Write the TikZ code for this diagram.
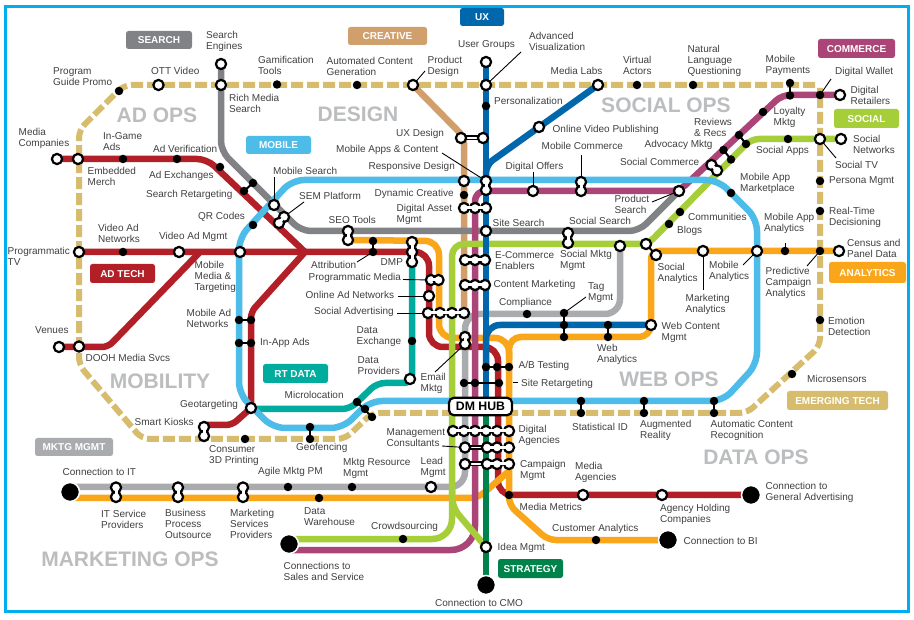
\documentclass[tikz,border=0pt]{standalone}
\usepackage{fontspec}
\setmainfont{Liberation Sans}
\definecolor{cFrame}{HTML}{00AEEF}
\definecolor{cTan}{HTML}{D6BC6C}
\definecolor{cCre}{HTML}{D09F6C}
\definecolor{cGray}{HTML}{808285}
\definecolor{cLGray}{HTML}{A9ABAE}
\definecolor{cTeal}{HTML}{00AC9E}
\definecolor{cRed}{HTML}{B31F26}
\definecolor{cOrange}{HTML}{FAA61A}
\definecolor{cPlum}{HTML}{AC4577}
\definecolor{cGreen}{HTML}{A5CE39}
\definecolor{cSky}{HTML}{4DBCE9}
\definecolor{cBlue}{HTML}{0067AC}
\definecolor{cStrat}{HTML}{00834A}
\definecolor{cArea}{HTML}{BBBDBF}
\definecolor{cText}{HTML}{404040}
\pgfdeclarelayer{rails}
\pgfdeclarelayer{sticks}
\pgfdeclarelayer{over}
\pgfsetlayers{rails,sticks,main,over}
\tikzset{
 wst/.style={circle,draw=black,fill=white,line width=2.2pt,minimum size=10.2pt,inner sep=0pt},
 bst/.style={circle,fill=black,minimum size=8.5pt,inner sep=0pt},
 bigst/.style={circle,fill=black,draw=white,line width=1.5pt,minimum size=19pt,inner sep=0pt},
 lab/.style={anchor=west,align=left,inner sep=0pt,text=cText,font=\fontsize{10}{11}\selectfont},
 area/.style={text=cArea,inner sep=0pt,font=\fontsize{21}{23}\selectfont\bfseries},
 tag/.style={rounded corners=2.5pt,text=white,inner sep=0pt,text height=7.2pt,text depth=0pt,font=\fontsize{10}{11}\selectfont\bfseries},
 rail/.style={line width=6.5pt,line join=round},
 leader/.style={draw=black,line width=0.9pt},
}
\newcommand\ws[3]{\node[wst] (#1) at (#2,#3) {};}
\newcommand\bs[3]{\node[bst] (#1) at (#2,#3) {};}
\newcommand\lb[4]{\node[lab] (#1) at (#2,#3) {#4};}
\newcommand\pn[2]{\begin{pgfonlayer}{over}\draw[white,line width=3pt] (#1.center) -- (#2.center);\end{pgfonlayer}}
\newcommand\lnk[2]{\begin{pgfonlayer}{sticks}\draw[black,line width=5pt] (#1.center) -- (#2.center);\draw[white,line width=1.5pt] (#1.center) -- (#2.center);\end{pgfonlayer}}
\newcommand\stk[2]{\begin{pgfonlayer}{sticks}\draw[black,line width=2pt] (#1.center) -- (#2.center);\end{pgfonlayer}}
\newcommand\ld[2]{\begin{pgfonlayer}{sticks}\draw[leader] (#1) -- (#2);\end{pgfonlayer}}
\newcommand\tg[6]{\node[tag,fill=#1,minimum width=#4pt,minimum height=#5pt] (#6) at (#2,#3) {#6};}
\begin{document}
\begin{tikzpicture}[x=1pt,y=-1pt]
\useasboundingbox (0,0) rectangle (914,620);
\begin{pgfonlayer}{rails}\fill[white] (0,0) rectangle (914,620);\end{pgfonlayer}
\node[draw=cFrame,line width=3pt,minimum width=902.5pt,minimum height=605pt,inner sep=0pt] (frame) at (456.75,309) {};

% stations: top
\ws{ott}{158.5}{85}\ws{seng}{221}{64}\ws{rich}{221}{85}\bs{gami}{277}{84.5}\bs{auto}{357}{85}\ws{pdes}{413}{85}
\ws{advv}{486}{85}\ws{ugrp}{486}{62}\bs{pers}{486}{106}\ws{mlab}{598}{85}\ws{ovp}{539}{127}
\bs{virt}{637}{85}\bs{natl}{693}{85}\bs{mpay}{790}{83}\bs{mpayb}{790}{95.5}\bs{dwal}{820}{95}\ws{dret}{840}{95}
\bs{prog}{119}{91}\bs{loya}{763}{112}\bs{revw}{739}{135}\bs{revb}{746}{144}\bs{advo}{723.5}{150}\bs{advb}{731}{159.5}
\ws{scoma}{711.5}{165}\ws{scomb}{717}{170.5}\bs{sapp}{788}{139}\ws{stv}{820}{139}\ws{snet}{841}{139}
\bs{pmg}{820}{181}\bs{rtd}{820}{211}\bs{mamk}{731}{193}\bs{comm}{680}{212}\bs{blog}{669}{224}\ws{psch}{679}{191}
\ws{doff}{533}{191}\ws{mcoa}{581}{182}\ws{mcob}{581}{191}\ws{mapa}{486}{181}\ws{mapb}{486}{190}
\ws{resp}{464}{181}\bs{dync}{464}{195}\ws{daa}{464}{208}\ws{dab}{475}{208}\ws{dac}{486}{208}
\ws{uxa}{461}{138}\ws{uxb}{483}{138}\ws{ssch}{486}{231}\ws{smka}{568}{233}\ws{smkb}{568}{243}
\ws{sana}{646}{244}\ws{sanb}{656}{255}\ws{tagm}{620}{246}\ws{mnly}{703}{251}\ws{maan}{757}{251}\bs{pred}{785}{251}\bs{pcam}{820}{251}\ws{cens}{839}{251}
\ws{ecoa}{465}{260}\ws{ecob}{475}{260}\ws{ecoc}{485}{260}\ws{cma}{465}{285}\ws{cmb}{475}{285}\ws{cmc}{485}{285}
\ws{sada}{428}{313}\ws{sadb}{440}{313}\ws{sadc}{452}{313}\ws{sadd}{464}{313}
\ws{pma}{431}{280}\ws{pmb}{438.5}{280}\ws{oan}{429}{296}\ws{dmpa}{412}{242}\ws{dmpb}{412}{252}\ws{dmpc}{412}{262}
\bs{attra}{373}{241}\bs{attrb}{373}{252}\ws{seoa}{348}{231}\ws{seob}{348}{240}
\bs{cpl}{527}{314}\bs{tmg}{564}{313}\bs{tmgb}{564}{325}\bs{tmgc}{564}{337}\bs{wana}{608}{325}\bs{wanb}{608}{337}\ws{wcm}{651}{325}
\bs{dex}{412}{341}\ws{dpr}{410}{379}\bs{mla}{357}{402}\bs{mlb}{365}{409}\bs{mlc}{372}{417}
\ws{geot}{251}{408}\ws{skia}{204}{427}\ws{skib}{204}{436}\bs{c3d}{245}{439}\bs{gfa}{310}{427}\bs{gfb}{310}{439}
\bs{iaa}{239}{343}\bs{iab}{251}{343}\bs{mana}{239}{320}\bs{manb}{251}{320}
\ws{dooh}{79}{346.5}\ws{venu}{59}{347}\ws{medc}{57}{159}\ws{embm}{78}{159}\bs{igam}{123}{159}\bs{aver}{177}{159}\bs{aexc}{220}{167}
\bs{srea}{253}{183}\bs{sreb}{244}{191}\ws{msch}{274}{205}\ws{sema}{284}{217}\ws{semb}{279}{223}\bs{qrc}{253}{225}
\ws{ptv}{79}{252}\bs{van}{123}{252}\ws{vam}{179}{252}\ws{mmt}{240}{252}
\ws{ema}{465}{337}\ws{emb}{465}{344}
\bs{aba}{486}{367}\bs{abb}{497}{367}\bs{abc}{509}{367}\bs{sra}{464}{383}\bs{srb}{475}{383}\bs{src}{499}{383}
\ws{daga}{453}{431}\ws{dagb}{464}{431}\ws{dagc}{475}{431}\ws{dagd}{486}{431}\ws{dage}{497}{431}\ws{dagf}{509}{431}
\ws{mca}{465}{447.5}\ws{mcb}{487}{447.5}\ws{mcc}{497}{447.5}\ws{mcd}{509}{447.5}
\ws{cma2}{465}{464}\ws{cmb2}{487}{464}\ws{cmc2}{497}{464}\ws{cmd2}{509}{464}
\ws{lead}{431}{487}\bs{agil}{288}{487}\bs{mres}{352}{487}
\node[bigst] (cit) at (70,492) {};
\ws{itsa}{116}{487.5}\ws{itsb}{116}{497}\ws{bpoa}{178}{487.5}\ws{bpob}{178}{497}\ws{msva}{243}{487.5}\ws{msvb}{243}{497}
\bs{dwar}{319}{498}\bs{crow}{403}{539}\node[bigst] (csal) at (289,544) {};
\bs{mmet}{509}{495}\ws{mage}{583}{495}\ws{ahol}{662}{495}\node[bigst] (cgen) at (751,495) {};
\bs{cana}{596}{540}\node[bigst] (cbi) at (668,540) {};
\ws{idea}{486}{547}\node[bigst] (ccmo) at (486,585) {};
\bs{staa}{581}{401}\bs{stab}{581}{413}\bs{auga}{644}{401}\bs{augb}{644}{413}\bs{acra}{714}{401}\bs{acrb}{714}{413}
\bs{msen}{792}{374}\bs{emot}{820}{320}

% hub
\node[draw=black,fill=white,line width=2.2pt,rounded corners=5pt,minimum width=63pt,minimum height=17.5pt,inner sep=0pt,font=\fontsize{12.3}{13}\selectfont\bfseries] (hub) at (480.5,406.5) {DM HUB};

% rails
\begin{pgfonlayer}{rails}
\draw[rail,cTan,line width=6pt,dash pattern=on 12pt off 4pt,rounded corners=8pt] (815,85) -- (124,85) -- (79,130) -- (79,365) -- (142,439) -- (345,439) -- (372,413) -- (747,413) -- (820,346) -- (820,88);
\draw[rail,cCre,rounded corners=6pt] (pdes.center) -- (464,137) -- (sadd.center);
\draw[rail,cGray,rounded corners=10pt] (seng.center) -- (221,151) -- (301,231) -- (639,231) -- (psch.center);
\draw[rail,cLGray,rounded corners=15pt] (tagm.center) -- (620,314) -- (465,314) -- (465,487) -- (cit.center |- lead.center);
\draw[rail,cTeal,rounded corners=8pt] (dmpc.center) -- (412,383) -- (377,383) -- (350,409) -- (251,409);
\draw[rail,cRed,rounded corners=10pt] (medc.center) -- (207,159) -- (305,252);
\draw[rail,cRed,rounded corners=14pt] (ptv.center) -- (429,252) -- (429,347) -- (498,347) -- (498,495) -- (cgen.center);
\draw[rail,cRed,rounded corners=6pt] (305,252) -- (251,312) -- (geot.center);
\draw[rail,cRed,rounded corners=6pt] (204,425) -- (232,425) -- (geot.center);
\draw[rail,cRed,rounded corners=6pt] (200,252) -- (108,347) -- (venu.center);
\draw[rail,cOrange,rounded corners=8pt] (cens.center) -- (651,251) [rounded corners=12pt] -- (651,337) -- (509,337) [rounded corners=8pt] -- (509,505) -- (548,540) -- (cbi.center);
\draw[rail,cOrange,rounded corners=14pt] (seob.center) -- (439,241) -- (439,338) -- (509,338) -- (509,360);
\draw[rail,cOrange,rounded corners=8pt] (70,498) -- (478,498) -- (509,471);
\draw[rail,cPlum,rounded corners=8pt] (dret.center) -- (782,95) -- (679,191) [rounded corners=10pt] -- (475,191) [rounded corners=24pt] -- (475,550) -- (289,550);
\draw[rail,cGreen,rounded corners=8pt] (snet.center) -- (751,139) -- (648,244) [rounded corners=12pt] -- (452,244) [rounded corners=20pt] -- (452,539) -- (289,539);
\draw[rail,cGreen,rounded corners=10pt] (452,490) -- (452,507) -- (idea.center);
\draw[rail,cSky,rounded corners=12pt] (239,238) -- (292,180) -- (718,180) -- (757,219) -- (757,364) -- (723,401) -- (370,401) -- (343,428) -- (273,428) -- (239,394) -- cycle;
\draw[rail,cStrat] (ccmo.center |- hub.center) -- (ccmo.center);
\draw[rail,cBlue] (ugrp.center) -- (486,398);
\draw[rail,cBlue,rounded corners=8pt] (mlab.center) -- (486,165) -- (486,195);
\draw[rail,cBlue,rounded corners=14pt] (wcm.center) -- (486,325) -- (486,370);
\end{pgfonlayer}

% multi-stations
\pn{mcoa}{mcob}\pn{mapa}{mapb}\pn{daa}{dab}\pn{dab}{dac}\pn{smka}{smkb}\pn{scoma}{scomb}
\pn{ecoa}{ecob}\pn{ecob}{ecoc}\pn{cma}{cmb}\pn{cmb}{cmc}\pn{sada}{sadb}\pn{sadb}{sadc}\pn{sadc}{sadd}
\pn{pma}{pmb}\pn{dmpa}{dmpb}\pn{dmpb}{dmpc}\pn{seoa}{seob}\pn{skia}{skib}\pn{sema}{semb}\pn{ema}{emb}
\pn{daga}{dagb}\pn{dagb}{dagc}\pn{dagc}{dagd}\pn{dagd}{dage}\pn{dage}{dagf}
\pn{mcb}{mcc}\pn{mcc}{mcd}\pn{cmb2}{cmc2}\pn{cmc2}{cmd2}
\pn{itsa}{itsb}\pn{bpoa}{bpob}\pn{msva}{msvb}
\lnk{uxa}{uxb}\lnk{mca}{mcb}\lnk{cma2}{cmb2}

% black links
\stk{mpay}{mpayb}\stk{revw}{revb}\stk{advo}{advb}\stk{attra}{attrb}\stk{tmg}{tmgc}\stk{wana}{wanb}
\stk{mla}{mlc}\stk{gfa}{gfb}\stk{iaa}{iab}\stk{mana}{manb}\stk{srea}{sreb}\stk{aba}{abc}\stk{sra}{src}
\stk{staa}{stab}\stk{auga}{augb}\stk{acra}{acrb}\stk{sana}{sanb}

% leaders
\ld{pdes.center}{425,71}\ld{advv.center}{521,52}\ld{dwal.center}{831,79}\ld{stv.center}{836,158}
\ld{pred.center}{785,243}\ld{maan.center}{743,265}\ld{pcam.center}{807,266}
\ld{psch.center}{652,202}\ld{tmg.center}{586,297}\ld{msch.center}{274,177}\ld{sema.center}{304,202}
\ld{attrb.center}{357,262}\ld{403,279.5}{pma.center}\ld{398,296}{oan.center}\ld{397,313}{sada.center}
\ld{442,153}{mapa.center}\ld{emb.center}{435,372}\ld{442,446}{mca.center}\ld{513,382.5}{518,382.5}
\ld{581,155}{mcoa.center}\ld{533,172}{doff.center}\ld{mnly.center}{703,290}

% area names
\node[area] (aAd) at (157,115) {AD OPS};
\node[area] (aDes) at (358,114) {DESIGN};
\node[area] (aSoc) at (666,105) {SOCIAL OPS};
\node[area] (aMob) at (160,381.5) {MOBILITY};
\node[area] (aWeb) at (669,379) {WEB OPS};
\node[area] (aDat) at (756,457) {DATA OPS};
\node[area] (aMkt) at (130,559) {MARKETING OPS};

% tags
\tg{cGray}{159}{40}{66}{18}{SEARCH}
\tg{cCre}{387.5}{36}{79}{18}{CREATIVE}
\tg{cSky}{278.5}{145}{65}{18}{MOBILE}
\tg{cRed}{122.5}{273.5}{65}{19}{AD TECH}
\tg{cBlue}{482}{17}{44}{18}{UX}
\tg{cPlum}{856.5}{48.5}{77}{19}{COMMERCE}
\tg{cGreen}{866.5}{118.5}{65}{19}{SOCIAL}
\tg{cOrange}{867.5}{272.5}{77}{21}{ANALYTICS}
\tg{cTeal}{295.5}{373.5}{65}{19}{RT DATA}
\tg{cLGray}{74}{447}{78}{18}{MKTG MGMT}
\tg{cTan}{837.5}{400.5}{101}{19}{EMERGING TECH}
\tg{cStrat}{530.5}{568.5}{65}{19}{STRATEGY}

% labels
\lb{l1}{206}{41.7}{Search\\Engines}
\lb{l2}{53}{77}{Program\\Guide Promo}
\lb{l3}{151}{70.5}{OTT Video}
\lb{l4}{258}{65.5}{Gamification\\Tools}
\lb{l5}{326.5}{66.5}{Automated Content\\Generation}
\lb{l6}{427.5}{66}{Product\\Design}
\lb{l7}{229}{103}{Rich Media\\Search}
\lb{l8}{18.5}{138}{Media\\Companies}
\lb{l9}{103}{142}{In-Game\\Ads}
\lb{l10}{153}{148.5}{Ad Verification}
\lb{l11}{87.5}{176.5}{Embedded\\Merch}
\lb{l12}{149}{175.5}{Ad Exchanges}
\lb{l13}{146}{194.5}{Search Retargeting}
\lb{l14}{198}{217}{QR Codes}
\lb{l15}{273}{170.5}{Mobile Search}
\lb{l16}{299}{196}{SEM Platform}
\lb{l17}{396}{134}{UX Design}
\lb{l18}{336}{150}{Mobile Apps \& Content}
\lb{l19}{368.5}{167}{Responsive Design}
\lb{l20}{374.5}{194}{Dynamic Creative}
\lb{l21}{396.5}{214}{Digital Asset\\Mgmt}
\lb{l22}{328.5}{219.5}{SEO Tools}
\lb{l23}{98}{233}{Video Ad\\Networks}
\lb{l24}{159}{236.5}{Video Ad Mgmt}
\lb{l25}{7.5}{256}{Programmatic\\TV}
\lb{l26}{194.5}{277}{Mobile\\Media \&\\Targeting}
\lb{l27}{311}{264.5}{Attribution}
\lb{l28}{380.5}{262.5}{DMP}
\lb{l29}{308.5}{278}{Programmatic Media}
\lb{l30}{305.5}{295}{Online Ad Networks}
\lb{l31}{314}{312}{Social Advertising}
\lb{l32}{35}{330.5}{Venues}
\lb{l33}{85.5}{358}{DOOH Media Svcs}
\lb{l34}{186.5}{318}{Mobile Ad\\Networks}
\lb{l35}{260}{342.5}{In-App Ads}
\lb{l36}{356.5}{336.5}{Data\\Exchange}
\lb{l37}{357.5}{365.3}{Data\\Providers}
\lb{l38}{420.5}{383}{Email\\Mktg}
\lb{l39}{284.5}{395}{Microlocation}
\lb{l40}{180}{404.5}{Geotargeting}
\lb{l41}{134.5}{421.5}{Smart Kiosks}
\lb{l42}{209}{456}{Consumer\\3D Printing}
\lb{l43}{296}{448}{Geofencing}
\lb{l44}{386.5}{438}{Management\\Consultants}
\lb{l45}{420.5}{467}{Lead\\Mgmt}
\lb{l46}{343}{468}{Mktg Resource\\Mgmt}
\lb{l47}{258}{472}{Agile Mktg PM}
\lb{l48}{62.5}{472}{Connection to IT}
\lb{l49}{101}{519}{IT Service\\Providers}
\lb{l50}{165}{523.7}{Business\\Process\\Outsource}
\lb{l51}{230}{524}{Marketing\\Services\\Providers}
\lb{l52}{304}{516.5}{Data\\Warehouse}
\lb{l53}{371}{527}{Crowdsourcing}
\lb{l54}{283.5}{571}{Connections to\\Sales and Service}
\lb{l55}{435}{603}{Connection to CMO}
\lb{l56}{458}{45}{User Groups}
\lb{l57}{529}{41.5}{Advanced\\Visualization}
\lb{l58}{550.5}{70.5}{Media Labs}
\lb{l59}{623}{65}{Virtual\\Actors}
\lb{l60}{687.5}{60.5}{Natural\\Language\\Questioning}
\lb{l61}{765.5}{65.5}{Mobile\\Payments}
\lb{l62}{835}{71.5}{Digital Wallet}
\lb{l63}{850.5}{95}{Digital\\Retailers}
\lb{l64}{494}{100.5}{Personalization}
\lb{l65}{552.5}{129.5}{Online Video Publishing}
\lb{l66}{773.5}{117}{Loyalty\\Mktg}
\lb{l67}{694}{127}{Reviews\\\& Recs}
\lb{l68}{644.5}{145}{Advocacy Mktg}
\lb{l69}{620}{162}{Social Commerce}
\lb{l70}{541.5}{146}{Mobile Commerce}
\lb{l71}{505.5}{166.5}{Digital Offers}
\lb{l72}{756}{151}{Social Apps}
\lb{l73}{853}{144}{Social\\Networks}
\lb{l74}{835}{164.5}{Social TV}
\lb{l75}{829}{181.5}{Persona Mgmt}
\lb{l76}{740}{183}{Mobile App\\Marketplace}
\lb{l77}{829}{217}{Real-Time\\Decisioning}
\lb{l78}{614.5}{204.5}{Product\\Search}
\lb{l79}{688}{217}{Communities}
\lb{l80}{677}{231}{Blogs}
\lb{l81}{492.5}{222.5}{Site Search}
\lb{l82}{569}{221}{Social Search}
\lb{l83}{764}{223.7}{Mobile App\\Analytics}
\lb{l84}{847}{248}{Census and\\Panel Data}
\lb{l85}{657.5}{273}{Social\\Analytics}
\lb{l86}{709}{271.5}{Mobile\\Analytics}
\lb{l87}{765.5}{282.5}{Predictive\\Campaign\\Analytics}
\lb{l88}{495}{260.5}{E-Commerce\\Enablers}
\lb{l89}{560}{260.5}{Social Mktg\\Mgmt}
\lb{l90}{493.5}{285}{Content Marketing}
\lb{l91}{499}{302.5}{Compliance}
\lb{l92}{588}{293}{Tag\\Mgmt}
\lb{l93}{685.5}{304.5}{Marketing\\Analytics}
\lb{l94}{661.5}{332}{Web Content\\Mgmt}
\lb{l95}{597}{354}{Web\\Analytics}
\lb{l96}{828}{326}{Emotion\\Detection}
\lb{l97}{518.5}{366}{A/B Testing}
\lb{l98}{521}{384}{Site Retargeting}
\lb{l99}{807}{379}{Microsensors}
\lb{l100}{572}{426.5}{Statistical ID}
\lb{l101}{640}{430.5}{Augmented\\Reality}
\lb{l102}{710.5}{430.5}{Automatic Content\\Recognition}
\lb{l103}{518.5}{435.5}{Digital\\Agencies}
\lb{l104}{520}{470.5}{Campaign\\Mgmt}
\lb{l105}{575}{472.5}{Media\\Agencies}
\lb{l106}{519.5}{507}{Media Metrics}
\lb{l107}{660}{514}{Agency Holding\\Companies}
\lb{l108}{552}{529}{Customer Analytics}
\lb{l109}{765.5}{492}{Connection to\\General Advertising}
\lb{l110}{683.5}{541}{Connection to BI}
\lb{l111}{497.5}{548}{Idea Mgmt}
\end{tikzpicture}
\end{document}
